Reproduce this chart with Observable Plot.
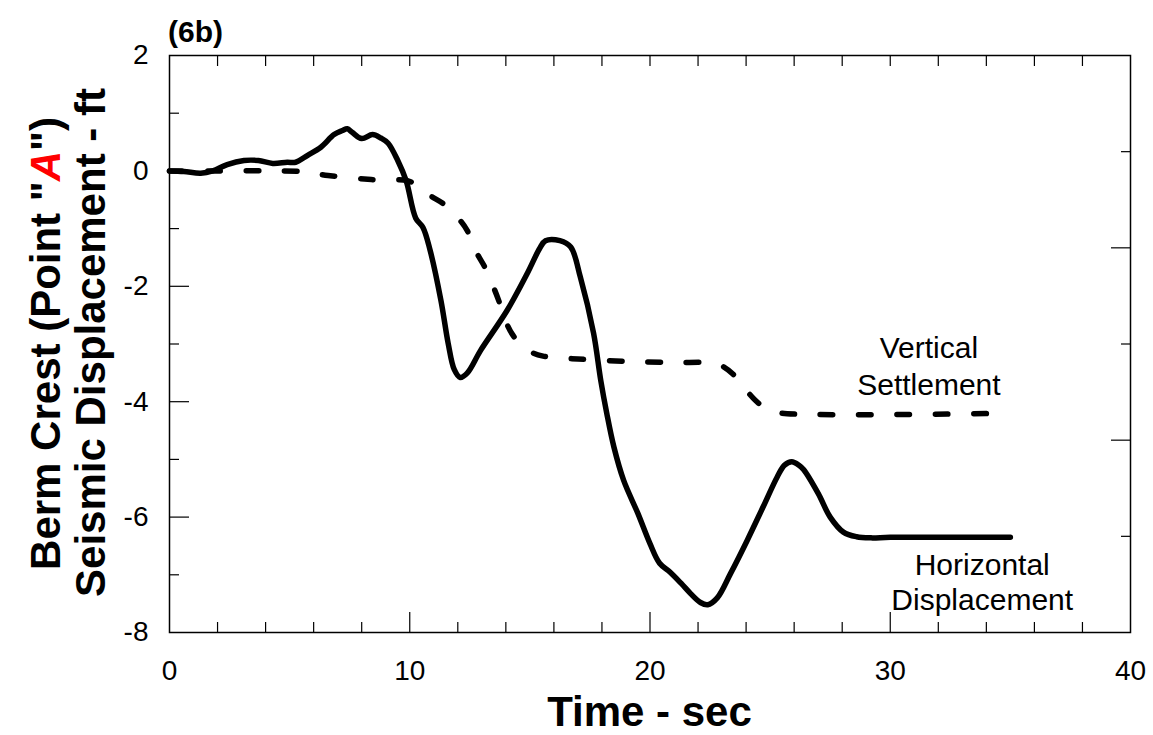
<!DOCTYPE html>
<html><head><meta charset="utf-8">
<script src="https://cdn.jsdelivr.net/npm/d3@7"></script>
<script src="https://cdn.jsdelivr.net/npm/@observablehq/plot@0.6"></script>
<style>body{margin:0;background:#fff;} svg{display:block;}</style>
</head><body><div id="chart"></div>
<script>
// Horizontal displacement (solid)
const horizTime = [0,0.6,1.3,1.8,2.4,3.1,3.7,4.3,4.9,5.25,5.75,6.3,6.85,7.2,7.4,7.6,8.0,8.45,8.8,9.1,9.5,9.85,10.25,10.55,10.85,11.3,11.6,11.85,12.1,12.4,12.95,14.05,14.9,15.4,15.65,16.25,16.7,17.1,17.65,17.95,18.2,18.5,18.9,19.5,20.0,20.4,20.85,21.3,21.7,22.1,22.4,22.8,23.35,24.05,24.7,25.3,25.6,25.9,26.2,26.4,27.0,27.5,28.05,28.6,29.2,30,35];
const horizDisp = [0,-0.01,-0.04,0,0.11,0.18,0.18,0.13,0.15,0.15,0.27,0.41,0.63,0.70,0.73,0.67,0.56,0.63,0.57,0.48,0.18,-0.17,-0.82,-0.98,-1.38,-2.25,-2.99,-3.44,-3.58,-3.50,-3.11,-2.42,-1.77,-1.35,-1.21,-1.21,-1.32,-1.84,-2.81,-3.63,-4.2,-4.79,-5.36,-5.94,-6.46,-6.8,-6.96,-7.15,-7.33,-7.48,-7.52,-7.4,-6.98,-6.4,-5.83,-5.3,-5.1,-5.04,-5.1,-5.18,-5.59,-6.0,-6.26,-6.34,-6.36,-6.35,-6.35];
// Vertical settlement (dashed)
const vertTime = [0,2,4,5.5,6.6,8.4,9.9,10.3,10.86,11.4,12.1,12.4,12.8,13.1,13.5,13.75,14.05,14.3,14.6,15.0,15.55,17,19,21,22.6,23.0,23.45,24.0,24.5,25.0,25.5,35];
const vertDisp = [0,0,0,-0.01,-0.08,-0.15,-0.17,-0.25,-0.43,-0.57,-0.86,-1.04,-1.43,-1.65,-2.03,-2.3,-2.66,-2.85,-3.0,-3.13,-3.21,-3.26,-3.3,-3.32,-3.33,-3.38,-3.52,-3.8,-4.02,-4.15,-4.2,-4.2];

// Axis ticks
const xLabels = [0,10,20,30,40];
const xMajorTicks = [10,20,30];
const xMinorTicks = [2,4,6,8,12,14,16,18,22,24,26,28,32,34,36,38];
const xTopTicks = [2,4,6,8,10,12,14,16,18,20,22,24,26,28,30,32,34,36,38];
const yLabels = [2,0,-2,-4,-6,-8];
const yMajorTicks = [0,-2,-4,-6];
const yMinorTicks = [1,-1,-3,-5,-7];
const rightMajorTicks = [-1.3333,-4.6667];
const rightMinorTicks = [0.3333,-3,-6.3333];

// Annotations
const annText = ["Vertical","Settlement","Horizontal","Displacement"];
const annTime = [31.63,31.63,33.85,33.85];
const annDisp = [-3.25,-3.89,-7.01,-7.62];

const horiz = horizTime.map((t,i)=>({t, v: horizDisp[i]}));
const vert = vertTime.map((t,i)=>({t, v: vertDisp[i]}));

const FONT = "Arial, 'Liberation Sans', Helvetica, sans-serif";
const blank = () => "";

const chart = Plot.plot({
  width: 1153, height: 735,
  marginLeft: 169, marginRight: 23, marginTop: 55, marginBottom: 103,
  style: {fontFamily: FONT, background: "#fff", color: "#000", overflow: "visible"},
  x: {domain: [0, 40], axis: null, label: null},
  y: {domain: [-8, 2], axis: null, label: null},
  marks: [
    Plot.axisX(xMinorTicks, {anchor: "bottom", tickSize: 10, dy: -10, tickFormat: blank, label: null, strokeWidth: 1.2}),
    Plot.axisX(xMajorTicks, {anchor: "bottom", tickSize: 20, dy: -20, tickFormat: blank, label: null, strokeWidth: 1.2}),
    Plot.axisX(xTopTicks, {anchor: "top", tickSize: 10, dy: 10, tickFormat: blank, label: null, strokeWidth: 1.2}),
    Plot.axisX(xLabels, {anchor: "bottom", tickSize: 0, tickPadding: 28, fontSize: 28, label: null, tickFormat: d => String(d)}),
    Plot.axisY(yMinorTicks, {anchor: "left", tickSize: 10, dx: 10, tickFormat: blank, label: null, strokeWidth: 1.2}),
    Plot.axisY(yMajorTicks, {anchor: "left", tickSize: 20, dx: 20, tickFormat: blank, label: null, strokeWidth: 1.2}),
    Plot.axisY(yLabels, {anchor: "left", tickSize: 0, tickPadding: 21, fontSize: 28, label: null, tickFormat: d => String(d)}),
    Plot.axisY(rightMinorTicks, {anchor: "right", tickSize: 10, dx: -10, tickFormat: blank, label: null, strokeWidth: 1.2}),
    Plot.axisY(rightMajorTicks, {anchor: "right", tickSize: 20, dx: -20, tickFormat: blank, label: null, strokeWidth: 1.2}),
    Plot.frame({stroke: "black", strokeWidth: 1.5}),
    Plot.line(vert, {x: "t", y: "v", stroke: "black", strokeWidth: 5.5, strokeDasharray: "12.5,25.8", strokeLinecap: "round", curve: "catmull-rom"}),
    Plot.line(horiz, {x: "t", y: "v", stroke: "black", strokeWidth: 5.5, strokeLinecap: "round", curve: "catmull-rom"})
  ]
});
document.getElementById("chart").appendChild(chart);

const svg = d3.select(chart);
const xs = chart.scale("x"), ys = chart.scale("y");
const g = svg.append("g").attr("font-family", FONT).attr("fill", "black");

// annotations
annText.forEach((s, i) => {
  g.append("text").attr("x", xs.apply(annTime[i])).attr("y", ys.apply(annDisp[i]))
    .attr("text-anchor", "middle").attr("font-size", 30).text(s);
});

// panel tag
g.append("text").attr("x", 168).attr("y", 42).attr("text-anchor", "start")
  .attr("font-size", 30).attr("font-weight", "bold").text("(6b)");

// x title
g.append("text").attr("x", 649.5).attr("y", 726).attr("text-anchor", "middle")
  .attr("font-size", 42).attr("font-weight", "bold").text("Time - sec");

// y title (two lines, red italic A)
const t1 = g.append("text").attr("transform", "translate(60,343.5) rotate(-90)")
  .attr("text-anchor", "middle").attr("font-size", 42).attr("font-weight", "bold");
t1.append("tspan").text('Berm Crest (Point "');
t1.append("tspan").attr("fill", "#ff0000").attr("font-style", "italic").text("A");
t1.append("tspan").text('")');
g.append("text").attr("transform", "translate(105,342.5) rotate(-90)")
  .attr("text-anchor", "middle").attr("font-size", 42).attr("font-weight", "bold")
  .text("Seismic Displacement - ft");
</script>
</body></html>
